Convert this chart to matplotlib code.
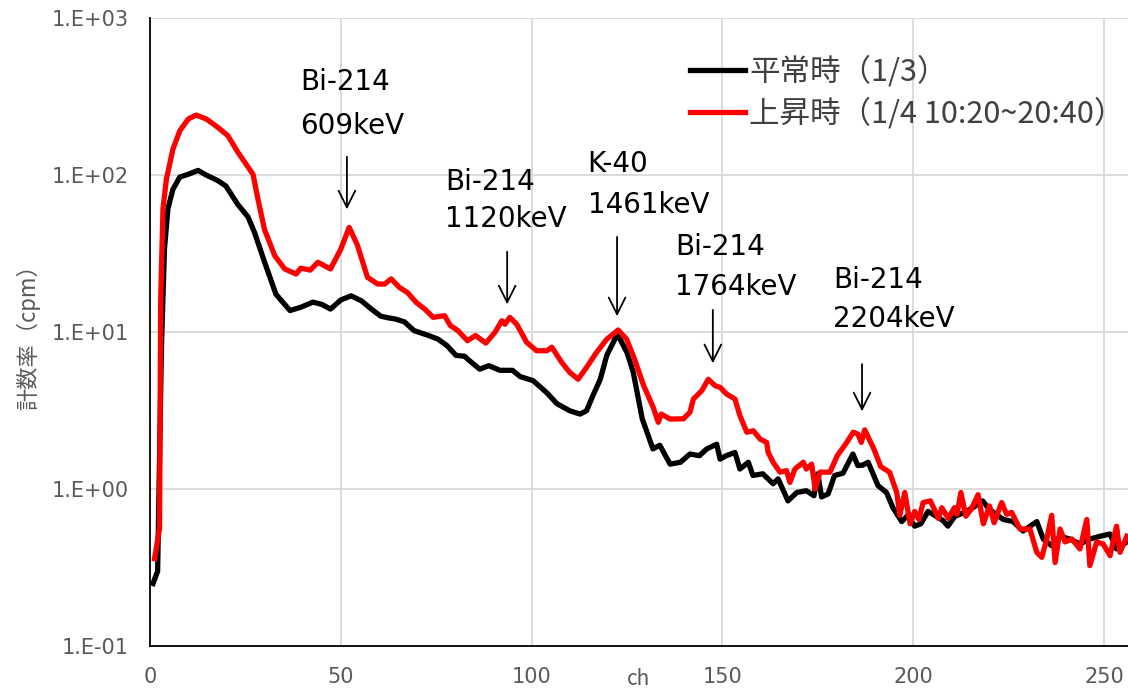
import numpy as np
import matplotlib
matplotlib.use("Agg")
import matplotlib.pyplot as plt

# channel / count rate (cpm)
normal_ch = [0.8, 2.0, 3.0, 3.8, 4.7, 6, 7.8, 10, 12.6, 14.7, 17.8, 19.9, 23, 25.7,
             27.4, 30, 33, 36.7, 39.6, 42.7, 45, 47.3, 50, 52.7, 55.4, 58, 60.5,
             62.5, 64.3, 66.7, 69.2, 73, 75.5, 77.8, 80.2, 82.5, 83.3, 86.4, 88.8,
             91.7, 95, 97, 100.4, 104, 106.6, 110, 112.7, 114.4, 116, 118, 119.7,
             122.5, 125, 126.6, 129, 131.8, 133.6, 136.3, 139, 141.5, 144, 145.9,
             148.5, 149.4, 151, 153.3, 154.6, 156.8, 158, 160.6, 163.3, 164.6,
             167.2, 169.5, 172, 174, 175, 176, 177.7, 179.4, 181.6, 184.2, 185.5,
             186.8, 188.2, 190.8, 193, 194.7, 197, 198.6, 200.4, 202, 203.9, 205.6,
             207.8, 209.1, 210.9, 213.5, 216, 218.2, 219.8, 221.7, 223.6, 226.2,
             228.8, 232.4, 234.1, 236.3, 238.5, 241.1, 243.7, 246.3, 249, 251.6,
             253.3, 256]
normal_cpm = [0.25, 0.30, 8, 34, 61, 81, 97, 101, 107, 100, 92, 85, 65, 54,
              43, 28, 17.4, 13.7, 14.4, 15.5, 15.0, 14, 16.0, 17, 15.8, 14, 12.6,
              12.3, 12.1, 11.6, 10.2, 9.5, 9.0, 8.2, 7.1, 7.0, 6.7, 5.8, 6.1,
              5.7, 5.7, 5.2, 4.9, 4.1, 3.5, 3.15, 3.0, 3.15, 3.9, 5.0, 7.1,
              9.7, 7.4, 5.6, 2.8, 1.8, 1.9, 1.44, 1.48, 1.67, 1.63, 1.8,
              1.93, 1.55, 1.63, 1.71, 1.34, 1.48, 1.22, 1.25, 1.08, 1.16,
              0.84, 0.95, 0.975, 0.906, 1.25, 0.89, 0.93, 1.22, 1.26, 1.67, 1.41,
              1.42, 1.48, 1.05, 0.95, 0.76, 0.62, 0.68, 0.58, 0.6, 0.72, 0.68,
              0.63, 0.58, 0.67, 0.71, 0.77, 0.84, 0.75, 0.69, 0.64, 0.62,
              0.54, 0.62, 0.48, 0.435, 0.50, 0.48, 0.446, 0.48, 0.50, 0.517,
              0.415, 0.46]

rise_ch = [1.2, 2.5, 2.8, 3.4, 4.3, 6, 7.8, 10, 12.1, 14.8, 17.8, 20.4, 23, 25.2,
           27, 28.3, 30, 32.7, 35.3, 38.3, 39.5, 42, 44, 47.3, 50, 52.2, 54.3, 57,
           59.7, 61.5, 63.2, 65.4, 67.5, 69.8, 72, 74.2, 77.2, 78.7, 80.7, 83.2,
           85.3, 88, 90.4, 92.2, 93, 94.3, 96.1, 98.7, 101.3, 104, 105.3, 107.9,
           110, 112.2, 114.4, 117, 119.7, 122.7, 124.9, 127, 129.3, 131.9, 133.2,
           134, 136.3, 139.8, 141.5, 142.4, 144.6, 146.3, 148.1, 149.4, 151.1,
           153.3, 154.6, 156.4, 158.1, 159.9, 161.6, 162, 163.3, 165.1, 166.8,
           167.7, 169, 171.2, 172, 173.4, 174.3, 175.6, 178.2, 180.1, 182.6,
           184.3, 185.5, 186.4, 187.3, 189.7, 191.5, 193.8, 195.7, 196.5, 197.8,
           199.2, 200.4, 201.5, 202.6, 204.5, 205.8, 206.6, 207.5, 209.2, 210.8,
           211.5, 212.5, 213.8, 215.3, 217, 218.4, 220, 221.2, 223.2, 224.5,
           225.8, 228, 230.6, 232.4, 233.7, 235, 236.3, 237.2, 238.5, 239.8,
           241.6, 243.7, 245.5, 246.3, 248.1, 249.8, 251.6, 253.3, 254.2, 256]
rise_cpm = [0.36, 0.56, 16, 61, 94, 146, 191, 227, 241, 227, 201, 178, 140, 117,
            101, 70, 45, 30.6, 25.2, 23.4, 25.5, 24.8, 27.8, 25.2, 33.7, 46.4, 36, 22.3,
            20.2, 20.2, 21.8, 19.2, 17.8, 15.4, 14, 12.4, 12.7, 11.0, 10.2, 8.8,
            9.5, 8.5, 9.95, 11.8, 11.2, 12.4, 11.2, 8.6, 7.6, 7.6, 8.0, 6.4,
            5.53, 5.0, 5.95, 7.4, 9.0, 10.3, 9.0, 6.7, 4.6, 3.3, 2.66,
            3.0, 2.79, 2.8, 3.08, 3.74, 4.23, 5.0, 4.55, 4.44, 4.03,
            3.74, 2.93, 2.3, 2.35, 2.08, 1.98, 1.71, 1.48, 1.28, 1.31,
            1.1, 1.34, 1.48, 1.34, 1.44, 1.0, 1.28, 1.28, 1.63, 1.98,
            2.3, 2.24, 1.98, 2.38, 1.8, 1.39, 1.28, 0.95, 0.68, 0.95,
            0.6, 0.72, 0.64, 0.82, 0.84, 0.72, 0.65, 0.76, 0.65, 0.76,
            0.69, 0.95, 0.67, 0.75, 0.92, 0.6, 0.78, 0.61, 0.82, 0.69,
            0.71, 0.556, 0.556, 0.395, 0.367, 0.48, 0.68, 0.34, 0.556, 0.46,
            0.48, 0.415, 0.64, 0.325, 0.46, 0.446, 0.376, 0.58, 0.395, 0.50]

series_labels = ["平常時（1/3）", "上昇時（1/4 10:20~20:40）"]

# peak annotations: (line1, line2, text x, text y1, text y2, arrow x, arrow top, arrow tip)
peaks = [
    ("Bi-214", "609keV", 39.3, 390, 205, 51.6, 136, 58),
    ("Bi-214", "1120keV", 77.3, 90, 52.5, 93.6, 33.8, 14.4),
    ("K-40", "1461keV", 114.7, 117, 64, 122.4, 42, 12.1),
    ("Bi-214", "1764keV", 137.6, 34.8, 19.4, 147.5, 14.4, 6.07),
    ("Bi-214", "2204keV", 179.0, 21.4, 12.1, 186.6, 6.5, 3.0),
]

CJK = ["Noto Sans CJK JP", "DejaVu Sans"]
GRAY = "#595959"

fig = plt.figure(figsize=(11.28, 6.9), dpi=100)
ax = fig.add_axes([150 / 1128, 44 / 690, 978 / 1128, 628 / 690])

ax.plot(normal_ch, normal_cpm, color="black", lw=3.8, label=series_labels[0],
        solid_joinstyle="round")
ax.plot(rise_ch, rise_cpm, color="#ff0000", lw=3.8, label=series_labels[1],
        solid_joinstyle="round")

ax.set_yscale("log")
ax.set_ylim(0.1, 1000)
ax.set_xlim(0, 256.3)
ax.set_xticks([0, 50, 100, 150, 200, 250])
ax.set_yticks([0.1, 1, 10, 100, 1000])
ax.set_yticklabels(["1.E-01", "1.E+00", "1.E+01", "1.E+02", "1.E+03"])
ax.minorticks_off()
ax.grid(True, color="#d9d9d9", lw=1.3)
ax.set_axisbelow(True)
ax.tick_params(length=0, labelsize=15, labelcolor=GRAY, pad=15)
for s in ["top", "right"]:
    ax.spines[s].set_visible(False)
for s in ["left", "bottom"]:
    ax.spines[s].set_linewidth(1.3)

ax.set_xlabel("ch", fontsize=15, color=GRAY, family=CJK, va="center")
ax.xaxis.set_label_coords(0.5, -0.052)
ax.set_ylabel("計数率（cpm）", fontsize=16, color=GRAY, family=CJK,
              va="center", ha="center")
ax.yaxis.set_label_coords(-0.125, 0.5)

for l1, l2, tx, ty1, ty2, axx, atop, atip in peaks:
    ax.text(tx, ty1, l1, fontsize=20, va="center", ha="left")
    ax.text(tx, ty2, l2, fontsize=20, va="center", ha="left")
    ax.annotate("", xy=(axx, atip), xytext=(axx, atop),
                arrowprops=dict(arrowstyle="->", lw=1.3, color="black",
                                mutation_scale=30))

leg = ax.legend(loc="upper left", bbox_to_anchor=(0.552, 0.94), frameon=False,
                prop={"family": CJK, "size": 22}, handlelength=1.8,
                handletextpad=0.15, labelspacing=0.35, borderpad=0,
                borderaxespad=0)
for t in leg.get_texts():
    t.set_color("#404040")

fig.savefig("out.png", dpi=100)
